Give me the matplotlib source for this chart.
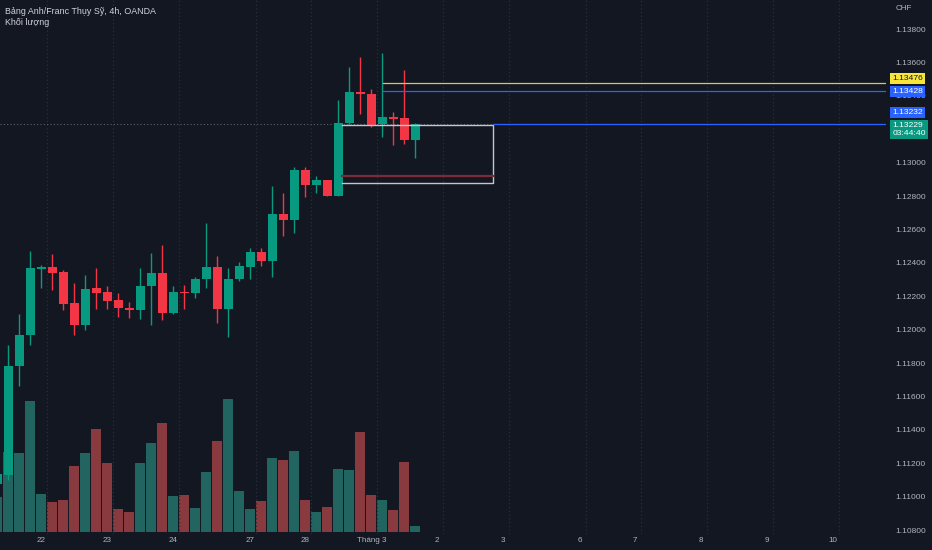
import numpy as np
import matplotlib
matplotlib.use("Agg")
import matplotlib.pyplot as plt
import matplotlib.transforms as mtransforms
from matplotlib.ticker import FuncFormatter

# GBP/CHF 4h candles
open_ = [1.11075, 1.11131, 1.11782, 1.11966, 1.12365, 1.12375, 1.12343, 1.12157,
         1.12029, 1.12247, 1.12223, 1.12175, 1.12129, 1.12119, 1.12259, 1.12341,
         1.12101, 1.12227, 1.12221, 1.12301, 1.12377, 1.12123, 1.12301, 1.12375,
         1.12465, 1.12413, 1.12692, 1.12656, 1.12956, 1.12864, 1.12896, 1.12802,
         1.13235, 1.13421, 1.13411, 1.13229, 1.13273, 1.13267, 1.13135]
high = [1.11159, 1.11908, 1.12092, 1.12471, 1.12387, 1.12453, 1.12357, 1.12281,
        1.12327, 1.12367, 1.12261, 1.12221, 1.12167, 1.12367, 1.12461, 1.12507,
        1.12261, 1.12267, 1.12317, 1.12640, 1.12441, 1.12367, 1.12405, 1.12490,
        1.12490, 1.12862, 1.12816, 1.12972, 1.12972, 1.12920, 1.12898, 1.13375,
        1.13574, 1.13631, 1.13439, 1.13654, 1.13303, 1.13554, 1.13235]
low = [1.11052, 1.11099, 1.11662, 1.11906, 1.12251, 1.12237, 1.12117, 1.11966,
       1.11998, 1.12123, 1.12122, 1.12077, 1.12071, 1.12065, 1.12026, 1.12056,
       1.12096, 1.12123, 1.12187, 1.12247, 1.12038, 1.11958, 1.12293, 1.12301,
       1.12383, 1.12313, 1.12561, 1.12580, 1.12796, 1.12820, 1.12802, 1.12800,
       1.13233, 1.13291, 1.13215, 1.13155, 1.13104, 1.13110, 1.13026]
close = [1.11135, 1.11784, 1.11968, 1.12367, 1.12373, 1.12341, 1.12155, 1.12029,
         1.12245, 1.12221, 1.12173, 1.12128, 1.12119, 1.12261, 1.12341, 1.12101,
         1.12225, 1.12219, 1.12303, 1.12377, 1.12123, 1.12303, 1.12379, 1.12465,
         1.12413, 1.12692, 1.12656, 1.12956, 1.12864, 1.12896, 1.12802, 1.13237,
         1.13421, 1.13409, 1.13227, 1.13271, 1.13263, 1.13135, 1.13229]
volume = [3500, 8000, 7960, 13160, 3830, 3000, 3260, 6630, 7960, 10300,
          6960, 2330, 2030, 6900, 8960, 10930, 3630, 3760, 2460, 6030,
          9100, 13300, 4130, 2330, 3130, 7400, 7260, 8100, 3200, 2000,
          2560, 6330, 6260, 10030, 3700, 3260, 2200, 7030, 630]

# time axis labels (bar index where the label sits)
day_pos = [4, 10, 16, 23, 28, 34, 40, 46, 53, 58, 64, 70, 76]
day_labels = ["22", "23", "24", "27", "28", "Tháng 3", "2", "3", "6", "7", "8", "9", "10"]

# drawn levels
yellow_level = 1.13476
blue_level = 1.13428
alert_level = 1.13232
last_price = 1.13229
box_top = 1.13227
box_bottom = 1.12876
box_mid = 1.12920
box_start, box_end = 31.35, 45.04
lines_start = 35.04

BG = "#131722"
TXT = "#b2b5be"
UP, DOWN = "#089981", "#f23645"
VUP, VDOWN = "#22645f", "#883a3e"

plt.rcParams["font.family"] = ["Liberation Sans", "DejaVu Sans"]

fig = plt.figure(figsize=(9.32, 5.5), dpi=100, facecolor=BG)
ax = fig.add_axes([0, 16 / 550, 886 / 932, 534 / 550])
ax.set_facecolor(BG)

x = np.arange(len(open_))
o = np.array(open_)
c = np.array(close)
up = c >= o

# volume underneath, on its own scale
axv = ax.twinx()
axv.bar(x, volume, width=0.88, color=np.where(up, VUP, VDOWN), zorder=1)
axv.set_ylim(-170, 53230)
axv.set_yticks([])
for s in axv.spines.values():
    s.set_visible(False)
ax.set_zorder(axv.get_zorder() + 1)
ax.patch.set_visible(False)

# vertical dotted grid
for p in day_pos:
    ax.axvline(p + 0.5, color="#2a2e39", lw=0.9, ls=(0, (1, 2)), zorder=0)

# last price dotted line
ax.axhline(last_price, color="#5d606b", lw=0.8, ls=(0, (1, 2)), zorder=1)

# candles
colors = np.where(up, UP, DOWN)
ax.vlines(x, low, high, colors=colors, lw=1.0, zorder=2)
body = np.maximum(np.abs(c - o), 0.00008)
ax.bar(x, body, bottom=np.minimum(o, c), width=0.78, color=colors, zorder=3)

# rectangle and levels
ax.plot([box_start, box_end, box_end, box_start],
        [box_top, box_top, box_bottom, box_bottom], color="#c3c6cc", lw=1.0, zorder=4)
ax.plot([box_start, box_end], [box_mid, box_mid], color="#7b2c34", lw=1.6, zorder=4)
ax.plot([lines_start, 90], [yellow_level, yellow_level], color="#d8c85c", lw=0.9, zorder=4)
ax.plot([lines_start, 90], [blue_level, blue_level], color="#2962ff", lw=0.9, zorder=4)
ax.plot([box_end, 90], [alert_level, alert_level], color="#2962ff", lw=0.9, zorder=4)

ax.set_xlim(0.245, 80.79)
ax.set_ylim(1.107761, 1.139737)

ax.set_xticks(day_pos)
ax.set_xticklabels(day_labels)
ax.yaxis.tick_right()
ax.set_yticks(np.arange(1.108, 1.1381, 0.002))


def price_label(v, pos):
    # the 1.13200 tick sits behind the last-price tag, TradingView hides it
    if abs(v - 1.132) < 1e-6:
        return ""
    return "%.5f" % v


ax.yaxis.set_major_formatter(FuncFormatter(price_label))
ax.tick_params(axis="y", length=0, pad=7, labelsize=6.0, colors=TXT)
ax.tick_params(axis="x", length=0, pad=2.5, labelsize=5.8, colors=TXT)
for s in ax.spines.values():
    s.set_visible(False)

# price tags on the right axis
trans = mtransforms.blended_transform_factory(ax.transAxes, ax.transData)
tags = [
    (yellow_level, "1.13476", "#f7e53b", "#131722", 3.0),
    (blue_level, "1.13428", "#2962ff", "white", -0.6),
    (alert_level, "1.13232", "#2962ff", "white", 8.0),
    (last_price, "1.13229\n03:44:40", UP, "white", -3.4),
]
for level, label, bg, fg, dy in tags:
    ax.annotate(label, xy=(1.0, level), xycoords=trans, xytext=(4.6, dy),
                textcoords="offset points", ha="left", va="center",
                fontsize=6.1, color=fg, linespacing=1.2, annotation_clip=False,
                bbox=dict(boxstyle="square,pad=0.24", fc=bg, ec="none"), zorder=6)

ax.text(1 + 9.5 / 886, 1 - 9 / 534, "CHF", transform=ax.transAxes,
        ha="left", va="center", fontsize=5.9, color=TXT)
ax.text(5 / 886, 1 - 11.5 / 534, "Bảng Anh/Franc Thụy Sỹ, 4h, OANDA",
        transform=ax.transAxes, ha="left", va="center", fontsize=6.4, color="#d1d4dc")
ax.text(5 / 886, 1 - 22.5 / 534, "Khối lượng",
        transform=ax.transAxes, ha="left", va="center", fontsize=6.4, color="#d1d4dc")

fig.savefig("out.png", dpi=100, facecolor=BG)
